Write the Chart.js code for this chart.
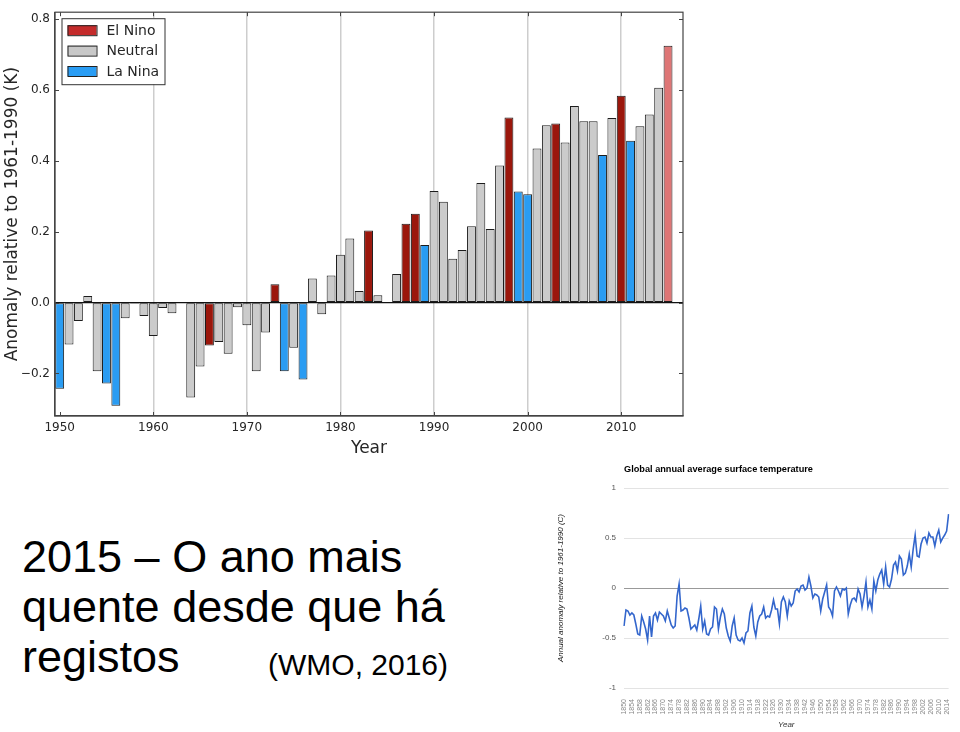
<!DOCTYPE html>
<html>
<head>
<meta charset="utf-8">
<script src="https://cdn.jsdelivr.net/npm/chart.js@4/dist/chart.umd.min.js"></script>
<style>
  body { margin: 0; background: #fff; width: 960px; height: 732px; overflow: hidden; position: relative;
         font-family: "Liberation Sans", Arial, sans-serif; }
  #ensoWrap { position: absolute; left: 0; top: 0; width: 690px; height: 460px; }
  #lineWrap { position: absolute; left: 555px; top: 458px; width: 405px; height: 274px; }
  #headline { position: absolute; left: 22px; top: 532px; font-size: 45px; line-height: 50px; color: #000; white-space: nowrap; }
  #source { position: absolute; left: 268px; top: 648px; font-size: 30px; line-height: 34px; color: #000; white-space: nowrap; }
</style>
</head>
<body>
<div id="ensoWrap"><canvas id="ensoChart"></canvas></div>
<div id="lineWrap"><canvas id="lineChart"></canvas></div>
<div id="headline">2015 – O ano mais<br>quente desde que há<br>registos</div>
<div id="source">(WMO, 2016)</div>

<script>
// --- top chart: yearly anomaly by ENSO phase ---
const years = Array.from({ length: 66 }, (_, i) => 1950 + i);
const anomaly = [
  -0.243, -0.118, -0.052, 0.019, -0.194, -0.228, -0.291, -0.044, -0.003, -0.038,
  -0.094, -0.015, -0.030, -0.002, -0.268, -0.180, -0.121, -0.111, -0.144, -0.013,
  -0.064, -0.194, -0.084, 0.052, -0.194, -0.127, -0.217, 0.068, -0.033, 0.077,
  0.135, 0.181, 0.033, 0.204, 0.021, 0.002, 0.081, 0.223, 0.251, 0.163,
  0.315, 0.285, 0.124, 0.149, 0.216, 0.338, 0.208, 0.387, 0.523, 0.314,
  0.306, 0.435, 0.501, 0.506, 0.452, 0.555, 0.512, 0.512, 0.417, 0.521,
  0.584, 0.457, 0.498, 0.531, 0.607, 0.725
];
const phase = [
  'L','N','N','N','N','L','L','N','N','N',
  'N','N','N','N','N','N','E','N','N','N',
  'N','N','N','E','L','N','L','N','N','N',
  'N','N','N','E','N','N','N','E','E','L',
  'N','N','N','N','N','N','N','N','E','L',
  'L','N','N','E','N','N','N','N','L','N',
  'E','L','N','N','N','E'
];
const provisionalYears = [2015];
const phaseNames = { E: 'El Nino', N: 'Neutral', L: 'La Nina' };
const xTicks = [1950, 1960, 1970, 1980, 1990, 2000, 2010];
const yTicks = [-0.2, 0.0, 0.2, 0.4, 0.6, 0.8];

// --- bottom chart: global annual average surface temperature ---
const lineYears = Array.from({ length: 166 }, (_, i) => 1850 + i);
const lineAnomaly = [
  -0.38, -0.22, -0.23, -0.27, -0.25, -0.27, -0.36, -0.46, -0.47, -0.28,
  -0.34, -0.41, -0.52, -0.28, -0.49, -0.28, -0.25, -0.32, -0.24, -0.26,
  -0.28, -0.33, -0.23, -0.30, -0.37, -0.40, -0.38, -0.08, 0.04, -0.23,
  -0.22, -0.20, -0.21, -0.30, -0.41, -0.39, -0.37, -0.42, -0.31, -0.18,
  -0.41, -0.33, -0.46, -0.47, -0.41, -0.39, -0.19, -0.21, -0.41, -0.29,
  -0.21, -0.26, -0.40, -0.48, -0.53, -0.38, -0.30, -0.47, -0.52, -0.53,
  -0.50, -0.55, -0.45, -0.43, -0.25, -0.18, -0.39, -0.48, -0.34, -0.28,
  -0.26, -0.19, -0.30, -0.28, -0.29, -0.22, -0.12, -0.21, -0.21, -0.36,
  -0.14, -0.09, -0.14, -0.28, -0.13, -0.18, -0.15, -0.03, -0.01, -0.04,
  0.02, 0.03, -0.02, 0.00, 0.11, 0.02, -0.10, -0.06, -0.07, -0.09,
  -0.23, -0.11, -0.04, 0.03, -0.19, -0.22, -0.28, -0.03, 0.01, -0.03,
  -0.08, -0.01, -0.02, 0.00, -0.26, -0.17, -0.11, -0.10, -0.13, -0.01,
  -0.06, -0.19, -0.08, 0.06, -0.19, -0.12, -0.21, 0.07, -0.03, 0.08,
  0.14, 0.18, 0.04, 0.21, 0.03, 0.01, 0.09, 0.23, 0.26, 0.17,
  0.32, 0.29, 0.13, 0.15, 0.22, 0.34, 0.21, 0.39, 0.53, 0.32,
  0.31, 0.44, 0.50, 0.51, 0.45, 0.55, 0.51, 0.51, 0.42, 0.52,
  0.58, 0.46, 0.50, 0.53, 0.57, 0.74
];

const barColors = { E: '#9b170c', N: '#cbcbcb', L: '#2a9cf2' };
const legendColors = { E: '#c42b2b', N: '#c8c8c8', L: '#2a9df4' };
const provisionalColor = '#de7676';
const ink = '#262626';
const mplFont = 'DejaVu Sans';

// full box frame plus small inward ticks, matplotlib style
const frame = {
  id: 'frame',
  afterDraw(chart) {
    const { ctx, chartArea: a, scales } = chart;
    ctx.save();
    ctx.strokeStyle = '#444';
    ctx.lineWidth = 1.2;
    ctx.strokeRect(a.left, a.top, a.right - a.left, a.bottom - a.top);
    ctx.lineWidth = 1;
    ctx.beginPath();
    yTicks.forEach(v => {
      const py = Math.round(scales.y.getPixelForValue(v)) + 0.5;
      ctx.moveTo(a.left, py); ctx.lineTo(a.left + 4, py);
      ctx.moveTo(a.right, py); ctx.lineTo(a.right - 4, py);
    });
    xTicks.forEach(v => {
      const px = Math.round(scales.x.getPixelForValue(v)) + 0.5;
      ctx.moveTo(px, a.bottom); ctx.lineTo(px, a.bottom - 4);
      ctx.moveTo(px, a.top); ctx.lineTo(px, a.top + 4);
    });
    ctx.stroke();
    ctx.restore();
  }
};

// boxed legend in the upper left corner
const boxLegend = {
  id: 'boxLegend',
  afterDraw(chart) {
    const { ctx, chartArea: a } = chart;
    const x = a.left + 6.5, y = a.top + 6;
    ctx.save();
    ctx.fillStyle = '#fff';
    ctx.fillRect(x, y, 103, 66);
    ctx.strokeStyle = '#333';
    ctx.lineWidth = 1;
    ctx.strokeRect(x + 0.5, y + 0.5, 103, 66);
    ctx.font = '14px "' + mplFont + '"';
    ctx.textBaseline = 'middle';
    chart.data.datasets.forEach((ds, i) => {
      const cy = y + 12 + i * 20.4;
      ctx.fillStyle = legendColors[ds.phaseKey];
      ctx.fillRect(x + 6, cy - 5, 29, 10);
      ctx.strokeStyle = '#222';
      ctx.strokeRect(x + 6.5, cy - 4.5, 29, 10);
      ctx.fillStyle = ink;
      ctx.fillText(ds.label, x + 45, cy + 1);
    });
    ctx.restore();
  }
};

const points = years.map((yr, i) => ({ x: yr, y: anomaly[i], p: phase[i] }));

new Chart(document.getElementById('ensoChart'), {
  type: 'bar',
  data: {
    datasets: ['E', 'N', 'L'].map(key => ({
      label: phaseNames[key],
      phaseKey: key,
      data: points.filter(d => d.p === key),
      backgroundColor: ctx => (ctx.raw && provisionalYears.includes(ctx.raw.x)) ? provisionalColor : barColors[key],
      borderColor: '#1c1c1c',
      borderWidth: 1,
      borderSkipped: false,
      grouped: false,
      categoryPercentage: 1,
      barPercentage: 0.95
    }))
  },
  options: {
    responsive: true,
    maintainAspectRatio: false,
    animation: false,
    layout: { padding: { top: 8, right: 7, left: 0, bottom: 0 } },
    plugins: { legend: { display: false }, tooltip: { enabled: false } },
    scales: {
      x: {
        type: 'linear',
        min: 1949.5,
        max: 2016.6,
        offset: false,
        afterBuildTicks: s => { s.ticks = xTicks.map(v => ({ value: v })); },
        afterFit: s => { s.height = 44; },
        grid: {
          offset: false,
          drawTicks: false,
          lineWidth: 1.5,
          color: c => (c.tick && c.tick.value === 1950) ? 'rgba(0,0,0,0)' : '#cdcdcd'
        },
        border: { display: true, color: '#444', width: 1.2 },
        ticks: { padding: 5, color: ink, font: { family: mplFont, size: 12 }, callback: v => String(v) },
        title: { display: true, text: 'Year', color: ink, font: { family: mplFont, size: 17 }, padding: { top: 0, bottom: 1 } }
      },
      y: {
        min: -0.32,
        max: 0.82,
        afterBuildTicks: s => { s.ticks = yTicks.map(v => ({ value: v })); },
        afterFit: s => { s.width = 55; },
        grid: {
          drawTicks: false,
          lineWidth: 1.2,
          color: c => (c.tick && c.tick.value === 0) ? '#111' : 'rgba(0,0,0,0)'
        },
        border: { display: true, color: '#444', width: 1.2 },
        ticks: {
          padding: 5, color: ink, font: { family: mplFont, size: 12 },
          callback: v => v < 0 ? '\u2212' + Math.abs(v).toFixed(1) : v.toFixed(1)
        },
        title: { display: true, text: 'Anomaly relative to 1961-1990 (K)', color: ink, font: { family: mplFont, size: 17 }, padding: { top: 2, bottom: 0 } }
      }
    }
  },
  plugins: [frame, boxLegend]
});

new Chart(document.getElementById('lineChart'), {
  type: 'line',
  data: {
    labels: lineYears,
    datasets: [{
      data: lineAnomaly,
      borderColor: '#3366cc',
      borderWidth: 1.6,
      pointRadius: 0,
      tension: 0,
      fill: false
    }]
  },
  options: {
    responsive: true,
    maintainAspectRatio: false,
    animation: false,
    layout: { padding: { top: 1, right: 11, left: 0, bottom: 0 } },
    plugins: {
      legend: { display: false },
      tooltip: { enabled: false },
      title: {
        display: true,
        text: 'Global annual average surface temperature',
        align: 'start',
        fullSize: false,
        color: '#000',
        font: { family: 'Liberation Sans', size: 9.2, weight: 'bold' },
        padding: { top: 5, bottom: 13 }
      }
    },
    scales: {
      x: {
        afterFit: s => { s.height = 44; },
        grid: { display: false },
        border: { display: false },
        ticks: {
          autoSkip: false,
          minRotation: 90,
          maxRotation: 90,
          padding: 3,
          color: '#888',
          font: { family: 'Liberation Sans', size: 7 },
          callback: (v, i) => i % 4 === 0 ? String(lineYears[i]) : ''
        },
        title: { display: true, text: 'Year', color: '#333', font: { family: 'Liberation Sans', size: 8, style: 'italic' }, padding: { top: 2, bottom: 2 } }
      },
      y: {
        min: -1,
        max: 1,
        afterFit: s => { s.width = 69; },
        grid: {
          drawTicks: false,
          lineWidth: 1,
          color: c => (c.tick && c.tick.value === 0) ? '#999' : '#e3e3e3'
        },
        border: { display: false },
        ticks: { stepSize: 0.5, padding: 8, color: '#555', font: { family: 'Liberation Sans', size: 8 }, callback: v => String(v) },
        title: { display: true, text: 'Annual anomaly relative to 1961-1990 (C)', color: '#222', font: { family: 'Liberation Sans', size: 8, style: 'italic' }, padding: { top: 1, bottom: 0 } }
      }
    }
  }
});
</script>
</body>
</html>
